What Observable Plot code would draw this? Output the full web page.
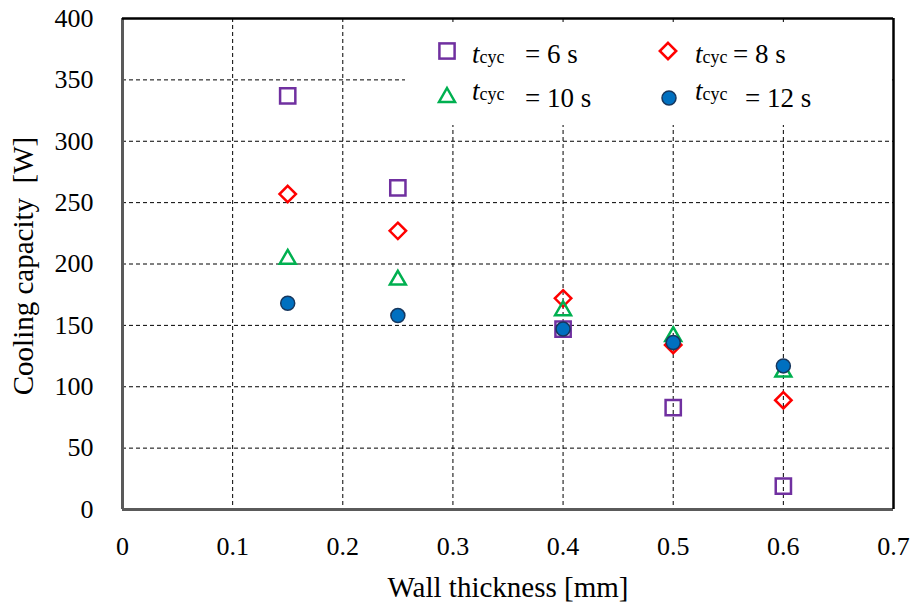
<!DOCTYPE html>
<html>
<head>
<meta charset="utf-8">
<script src="https://cdn.jsdelivr.net/npm/d3@7"></script>
<script src="https://cdn.jsdelivr.net/npm/@observablehq/plot@0.6"></script>
<style>
  html, body { margin: 0; padding: 0; background: #fff; }
  #wrap { position: relative; width: 917px; height: 611px; overflow: hidden; }
  #overlay { position: absolute; left: 0; top: 0; pointer-events: none; }
  svg text { font-family: "Liberation Serif", "Times New Roman", serif; }
</style>
</head>
<body>
<div id="wrap"></div>
<script>
// ---- data ----
const thickness = [0.15, 0.25, 0.4, 0.5, 0.6];          // wall thickness [mm]
const cap6  = [337, 262, 147, 83, 19];                    // t_cyc = 6 s
const cap8  = [257, 227, 172, 134, 89];                   // t_cyc = 8 s
const cap10 = [204, 187, 162, 141, 112];                  // t_cyc = 10 s
const cap12 = [168, 158, 147, 136, 117];                  // t_cyc = 12 s
const seriesNames = ["= 6 s", "= 8 s", "= 10 s", "= 12 s"];
const xTicks = [0, 0.1, 0.2, 0.3, 0.4, 0.5, 0.6, 0.7];
const yTicks = [0, 50, 100, 150, 200, 250, 300, 350, 400];
const xDomain = [0, 0.7];
const yDomain = [0, 400];
const xLabel = "Wall thickness [mm]";
const yLabel = "Cooling capacity\u2002[W]";

const rows = cap => thickness.map((t, i) => ({t, q: cap[i]}));
const xGrid = xTicks.filter(v => v > xDomain[0] && v < xDomain[1]);
const yGrid = yTicks.filter(v => v > yDomain[0] && v < yDomain[1]);

const W = 917, H = 611;
const grid = {stroke: "#000", strokeWidth: 1, strokeDasharray: "4,3"};

const chart = Plot.plot({
  width: W, height: H,
  marginLeft: 122, marginRight: 24, marginTop: 18, marginBottom: 102,
  style: {fontFamily: "Liberation Serif, Times New Roman, serif", fontSize: "26px", color: "#000", background: "#fff"},
  x: {domain: xDomain, ticks: xTicks, tickSize: 0, tickPadding: 27, label: null,
      tickFormat: d => d === 0 ? "0" : d3.format(".1f")(d)},
  y: {domain: yDomain, ticks: yTicks, tickSize: 0, tickPadding: 29, label: null,
      tickFormat: d3.format("d")},
  marks: [
    Plot.ruleX(xGrid, grid),
    Plot.ruleY(yGrid, grid),
    Plot.ruleX([xDomain[0]], {stroke: "#5a5a5a", strokeWidth: 3}),
    Plot.ruleY([yDomain[0]], {stroke: "#5a5a5a", strokeWidth: 3}),
    Plot.ruleX([xDomain[1]], {stroke: "#000", strokeWidth: 2.5}),
    Plot.ruleY([yDomain[1]], {stroke: "#000", strokeWidth: 2.5}),
    Plot.dot(rows(cap6),  {x: "t", y: "q", symbol: "square",   r: 8.6, fill: "none", stroke: "#7030A0", strokeWidth: 2.5}),
    Plot.dot(rows(cap8),  {x: "t", y: "q", symbol: "diamond2", r: 7.4, fill: "none", stroke: "#FF0000", strokeWidth: 2.5}),
    Plot.dot(rows(cap10), {x: "t", y: "q", symbol: "triangle2", r: 7.6, fill: "none", stroke: "#00B050", strokeWidth: 2.5}),
    Plot.dot(rows(cap12), {x: "t", y: "q", symbol: "circle",   r: 7,   fill: "#0070C0", stroke: "#17375E", strokeWidth: 1.5})
  ]
});
const wrap = document.getElementById("wrap");
wrap.appendChild(chart);

// ---- overlay: axis titles and legend ----
const ns = "http://www.w3.org/2000/svg";
const ov = document.createElementNS(ns, "svg");
ov.setAttribute("id", "overlay");
ov.setAttribute("width", W); ov.setAttribute("height", H);
wrap.appendChild(ov);
function el(tag, attrs, text) {
  const e = document.createElementNS(ns, tag);
  for (const k in attrs) e.setAttribute(k, attrs[k]);
  if (text != null) e.textContent = text;
  ov.appendChild(e);
  return e;
}
el("text", {x: 508, y: 597, "text-anchor": "middle", "font-size": 29, fill: "#000"}, xLabel);
el("text", {transform: "translate(33,266) rotate(-90)", "text-anchor": "middle", "font-size": 29, fill: "#000"}, yLabel);

// legend box
el("rect", {x: 405, y: 24, width: 486, height: 101, fill: "#fff"});
const legend = [
  {sym: "square",   sx: 447, sy: 51, tx: 472, tb: 63,  ex: 525, eb: 63,  name: seriesNames[0]},
  {sym: "diamond",  sx: 668, sy: 51, tx: 695, tb: 63,  ex: 733, eb: 63,  name: seriesNames[1]},
  {sym: "triangle", sx: 447, sy: 96, tx: 472, tb: 100, ex: 525, eb: 107, name: seriesNames[2]},
  {sym: "circle",   sx: 669, sy: 98, tx: 695, tb: 100, ex: 745, eb: 107, name: seriesNames[3]}
];
for (const L of legend) {
  if (L.sym === "square") el("rect", {x: L.sx - 7.6, y: L.sy - 7.6, width: 15.2, height: 15.2, fill: "none", stroke: "#7030A0", "stroke-width": 2.5});
  if (L.sym === "diamond") el("path", {d: `M${L.sx},${L.sy-8.2}L${L.sx+8.2},${L.sy}L${L.sx},${L.sy+8.2}L${L.sx-8.2},${L.sy}Z`, fill: "none", stroke: "#FF0000", "stroke-width": 2.5});
  if (L.sym === "triangle") el("path", {d: `M${L.sx},${L.sy-8}L${L.sx+8},${L.sy+6}L${L.sx-8},${L.sy+6}Z`, fill: "none", stroke: "#00B050", "stroke-width": 2.5});
  if (L.sym === "circle") el("circle", {cx: L.sx, cy: L.sy, r: 7, fill: "#0070C0", stroke: "#17375E", "stroke-width": 1.5});
  const t = el("text", {x: L.tx, y: L.tb, fill: "#000"});
  const ti = document.createElementNS(ns, "tspan");
  ti.setAttribute("font-style", "italic"); ti.setAttribute("font-size", 27); ti.textContent = "t";
  const tc = document.createElementNS(ns, "tspan");
  tc.setAttribute("font-size", 18); tc.textContent = "cyc";
  t.appendChild(ti); t.appendChild(tc);
  el("text", {x: L.ex, y: L.eb, "font-size": 27, fill: "#000"}, L.name);
}
</script>
</body>
</html>
